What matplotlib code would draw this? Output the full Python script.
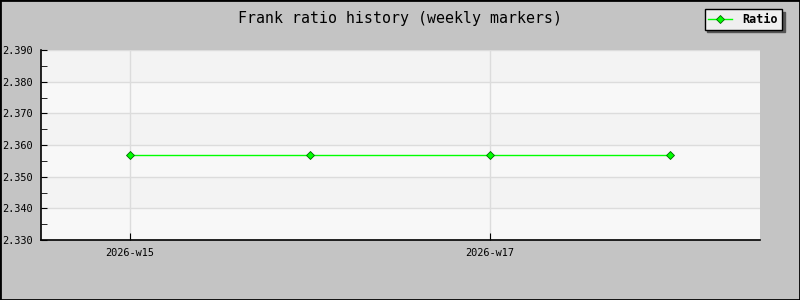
import matplotlib
matplotlib.use("Agg")
import matplotlib.pyplot as plt
from matplotlib.patches import Rectangle

weeks = ["2026-w15", "2026-w16", "2026-w17", "2026-w18"]
ratio = [2.357, 2.357, 2.357, 2.357]
label_weeks = ["2026-w15", "2026-w17"]
y_ticks = [2.330, 2.340, 2.350, 2.360, 2.370, 2.380, 2.390]

plt.rcParams["font.family"] = "DejaVu Sans Mono"

fig = plt.figure(figsize=(8, 3), dpi=100, facecolor="#c4c4c4")
fig.add_artist(Rectangle((0, 0), 1, 1, transform=fig.transFigure, fill=False,
                         edgecolor="#000000", linewidth=2))
ax = fig.add_axes([41 / 800, 60 / 300, 719 / 800, 190 / 300])
ax.set_facecolor("#f8f8f8")

# alternating horizontal bands
for i in range(len(y_ticks) - 1):
    color = "#f3f3f3" if (len(y_ticks) - 2 - i) % 2 == 0 else "#f8f8f8"
    ax.axhspan(y_ticks[i], y_ticks[i + 1], color=color, zorder=0, linewidth=0)

xs = list(range(len(weeks)))
ax.plot(xs, ratio, color="#00ff00", linewidth=1, marker="D", markersize=4,
        markerfacecolor="#00ff00", markeredgecolor="#006600", markeredgewidth=0.6,
        label="Ratio", zorder=3)

ax.set_xlim(-0.494, 3.5)
ax.set_ylim(y_ticks[0], y_ticks[-1])
ax.set_yticks(y_ticks)
ax.set_yticklabels([f"{v:.3f}" for v in y_ticks])
ax.set_yticks([v + 0.005 for v in y_ticks[:-1]], minor=True)
ax.set_xticks([weeks.index(w) for w in label_weeks])
ax.set_xticklabels(label_weeks)

ax.grid(True, which="major", color="#dcdcdc", linewidth=1, zorder=1)
ax.set_axisbelow(True)
ax.tick_params(axis="both", which="both", direction="in", labelsize=7.4, colors="#000000")
ax.tick_params(axis="y", which="major", length=4, pad=6)
ax.tick_params(axis="y", which="minor", length=4)
ax.tick_params(axis="x", which="major", length=5, pad=6)
for side in ("top", "right"):
    ax.spines[side].set_visible(False)
for side in ("left", "bottom"):
    ax.spines[side].set_linewidth(1.2)

fig.text(0.5, 1 - 19 / 300, "Frank ratio history (weekly markers)", ha="center", va="center",
         fontsize=10.7)

leg = fig.legend(loc="upper right", bbox_to_anchor=(782 / 800, 1 - 9 / 300), borderaxespad=0,
                 fancybox=False, shadow={"color": "#555555", "alpha": 1}, framealpha=1,
                 facecolor="#efefef", edgecolor="#000000",
                 prop={"weight": "bold", "size": 8.5},
                 handlelength=2.0, borderpad=0.32, handletextpad=0.9)
leg.get_frame().set_linewidth(1)

fig.savefig("out.png", dpi=100, facecolor=fig.get_facecolor())
